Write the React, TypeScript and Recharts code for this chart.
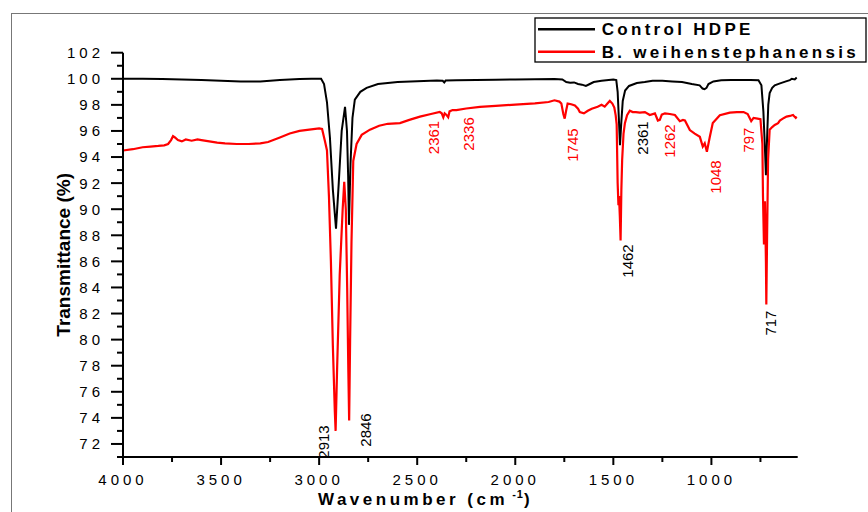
import { LineChart, Line, XAxis, YAxis, Legend, ReferenceDot, Label } from 'recharts';

const FONT = '"Liberation Sans", Arial, sans-serif';

// Control HDPE spectrum (wavenumber cm-1 / transmittance %)
const controlWave = [
  4000, 3900, 3800, 3700, 3600, 3500, 3400, 3300, 3200, 3100, 3040, 2990, 2975, 2960, 2945, 2930, 2914, 2900,
  2885, 2868, 2858, 2852, 2848, 2840, 2830, 2818, 2790, 2758, 2700, 2600, 2500, 2400, 2370, 2362, 2355, 2300,
  2200, 2100, 2000, 1900, 1800, 1760, 1740, 1720, 1700, 1680, 1660, 1640, 1620, 1600, 1560, 1500, 1485, 1478,
  1472, 1466, 1460, 1452, 1440, 1420, 1380, 1340, 1300, 1250, 1200, 1150, 1100, 1060, 1045, 1035, 1025, 1015,
  990, 950, 900, 850, 800, 760, 745, 735, 728, 722, 716, 710, 703, 690, 677, 650, 620, 600, 590, 575, 565,
];
const controlT = [
  100.0, 100.0, 99.98, 99.95, 99.9, 99.85, 99.8, 99.8, 99.9, 99.98, 100.0, 100.0, 99.6, 98.2, 95.5, 91.5, 88.5, 92.0,
  96.0, 97.85, 96.0, 92.5, 88.8, 93.5, 97.0, 98.4, 99.0, 99.3, 99.6, 99.75, 99.82, 99.86, 99.85, 99.72, 99.86, 99.88,
  99.9, 99.93, 99.95, 99.97, 99.98, 99.95, 99.75, 99.7, 99.72, 99.6, 99.55, 99.45, 99.6, 99.75, 99.85, 99.95, 99.9, 99.0,
  97.0, 94.9, 96.5, 98.3, 99.1, 99.45, 99.67, 99.75, 99.85, 99.85, 99.8, 99.75, 99.6, 99.5, 99.25, 99.2, 99.3, 99.6,
  99.8, 99.88, 99.9, 99.9, 99.9, 99.88, 99.5, 97.5, 95.0, 92.6, 95.5, 98.0, 98.9, 99.3, 99.5, 99.65, 99.8, 99.9, 100.0, 99.95, 100.1,
];

// B. weihenstephanensis treated HDPE spectrum
const bacWave = [
  4000, 3950, 3900, 3860, 3820, 3790, 3770, 3755, 3745, 3735, 3720, 3700, 3680, 3650, 3620, 3600, 3560, 3520,
  3480, 3420, 3360, 3300, 3260, 3200, 3150, 3100, 3050, 3000, 2985, 2970, 2960, 2950, 2940, 2930, 2920, 2916,
  2908, 2895, 2880, 2872, 2864, 2857, 2851, 2847, 2842, 2835, 2826, 2809, 2783, 2741, 2694, 2650, 2588, 2540,
  2486, 2430, 2385, 2375, 2367, 2360, 2352, 2342, 2335, 2320, 2300, 2250, 2180, 2100, 2000, 1900, 1830, 1800,
  1775, 1765, 1755, 1748, 1740, 1733, 1715, 1696, 1680, 1671, 1650, 1630, 1610, 1580, 1560, 1544, 1530, 1518,
  1505, 1495, 1488, 1483, 1478, 1474, 1471, 1467, 1463, 1459, 1455, 1448, 1441, 1430, 1416, 1401, 1385, 1365,
  1339, 1314, 1288, 1273, 1263, 1253, 1237, 1212, 1186, 1161, 1145, 1135, 1110, 1085, 1059, 1044, 1034, 1023,
  1008, 993, 957, 906, 870, 836, 815, 805, 797, 785, 765, 750, 740, 737, 732, 729, 727, 722, 720, 716, 711, 703,
  690, 677, 660, 651, 630, 617, 600, 584, 570, 565,
];
const bacT = [
  94.5, 94.6, 94.75, 94.8, 94.85, 94.9, 95.0, 95.3, 95.6, 95.5, 95.3, 95.2, 95.35, 95.25, 95.35, 95.3, 95.2, 95.1,
  95.05, 95.0, 95.0, 95.05, 95.15, 95.5, 95.8, 96.0, 96.1, 96.2, 96.15, 95.2, 94.5, 91.0, 86.0, 79.5, 74.5, 73.0,
  78.0, 85.0, 90.0, 92.1, 90.0, 84.0, 77.5, 73.8, 80.0, 87.5, 93.7, 95.0, 95.7, 96.1, 96.4, 96.55, 96.6, 96.85,
  97.1, 97.3, 97.45, 97.35, 97.05, 97.35, 97.25, 97.05, 97.5, 97.6, 97.6, 97.72, 97.85, 97.92, 98.02, 98.12, 98.22, 98.35,
  98.25, 98.1, 97.3, 96.95, 97.6, 98.1, 98.05, 97.95, 97.7, 97.45, 97.35, 97.55, 97.7, 97.85, 98.0, 97.86, 98.1, 98.3,
  98.1, 97.8, 97.2, 96.5, 92.0, 90.3, 91.0, 89.5, 87.6, 91.5, 93.8, 95.8, 96.6, 97.2, 97.55, 97.45, 97.45, 97.4,
  97.45, 97.22, 97.35, 96.8, 96.85, 97.25, 97.35, 97.3, 97.22, 96.75, 96.85, 96.8, 96.07, 95.8, 95.55, 94.8, 95.05, 94.4,
  95.55, 96.6, 97.2, 97.4, 97.45, 97.45, 97.3, 97.0, 96.75, 97.0, 96.95, 96.9, 95.0, 91.0, 87.3, 89.5, 90.6, 86.0, 82.7, 88.0, 93.8, 96.1,
  96.3, 96.46, 96.6, 96.8, 97.0, 97.1, 97.15, 97.22, 97.0, 97.1,
];

const xTicks = [4000, 3750, 3500, 3250, 3000, 2750, 2500, 2250, 2000, 1750, 1500, 1250, 1000, 750];
const yTicks = [
  71, 72, 73, 74, 75, 76, 77, 78, 79, 80, 81, 82, 83, 84, 85, 86, 87, 88, 89, 90, 91, 92, 93, 94, 95, 96,
  97, 98, 99, 100, 101, 102,
];

// peak annotations: label text, where it sits (wavenumber, %T), colour
const peakText = ['2913', '2846', '2361', '2336', '1745', '2361', '1262', '1048', '797', '1462', '717'];
const peakWave = [2975, 2761, 2415, 2236, 1708, 1350, 1212, 979, 806, 1426, 697];
const peakT = [72.15, 73.07, 95.5, 95.77, 94.92, 95.46, 95.23, 92.47, 95.3, 86.03, 81.27];
const peakColor = ['#000', '#000', '#f00', '#f00', '#f00', '#000', '#f00', '#f00', '#f00', '#000', '#000'];

const controlData = controlWave.map((w, i) => ({ w, t: controlT[i] }));
const bacData = bacWave.map((w, i) => ({ w, t: bacT[i] }));

const XTick = (props: any) => {
  const { x, y, payload } = props;
  const major = payload.value % 500 === 0;
  return (
    <g>
      <line x1={x} y1={y} x2={x} y2={y + (major ? 8 : 5)} stroke="#000" strokeWidth={2} />
      {major && (
        <text x={x} y={y + 28} textAnchor="middle" fontSize={15} letterSpacing={4} fontFamily={FONT} fill="#000">
          {payload.value}
        </text>
      )}
    </g>
  );
};

const YTick = (props: any) => {
  const { x, y, payload } = props;
  const major = payload.value % 2 === 0;
  return (
    <g>
      <line x1={x} y1={y} x2={x - (major ? 12 : 6)} y2={y} stroke="#000" strokeWidth={2} />
      {major && (
        <text x={x - 19} y={y + 5.4} textAnchor="end" fontSize={15} letterSpacing={4} fontFamily={FONT} fill="#000">
          {payload.value}
        </text>
      )}
    </g>
  );
};

const LegendBox = () => (
  <svg width={334} height={47} style={{ display: 'block' }}>
    <rect x={1} y={1} width={331} height={44} fill="#fff" stroke="#000" strokeWidth={1.3} />
    <line x1={4} x2={61} y1={12.3} y2={12.3} stroke="#000" strokeWidth={2.5} />
    <line x1={4} x2={61} y1={34.7} y2={34.7} stroke="#f00" strokeWidth={2.5} />
    <text x={67.7} y={18} fontSize={17} fontWeight="bold" letterSpacing={3.3} fontFamily={FONT} fill="#000">
      Control HDPE
    </text>
    <text x={67.7} y={41} fontSize={17} fontWeight="bold" letterSpacing={3.3} fontFamily={FONT} fill="#000">
      B. weihenstephanensis
    </text>
  </svg>
);

export default function App() {
  return (
    <div style={{ position: 'absolute', left: 0, top: 0, width: 868, height: 512, background: '#fff', overflow: 'hidden' }}>
      <div style={{ position: 'absolute', left: 11, top: 13, right: -5, bottom: -5, borderTop: '1px solid #777', borderLeft: '1px solid #777' }} />
      <LineChart width={868} height={512} margin={{ top: 52.7, right: 70.3, bottom: 25, left: 63 }}>
        <XAxis
          type="number"
          dataKey="w"
          domain={[560, 4000]}
          reversed
          allowDataOverflow
          ticks={xTicks}
          interval={0}
          height={30}
          tickSize={0}
          tickMargin={0}
          tickLine={false}
          tick={<XTick />}
          axisLine={{ stroke: '#000', strokeWidth: 2 }}
        >
          <Label
            content={(p: any) => {
              const vb = p.viewBox;
              return (
                <text x={vb.x + 195} y={vb.y + 48} fontSize={17} fontWeight="bold" letterSpacing={3.5} fontFamily={FONT} fill="#000">
                  Wavenumber (cm
                  <tspan dy={-7} fontSize={11} letterSpacing={1}> -1</tspan>
                  <tspan dy={7} fontSize={17}>)</tspan>
                </text>
              );
            }}
          />
        </XAxis>
        <YAxis
          type="number"
          domain={[71, 102]}
          allowDataOverflow
          ticks={yTicks}
          interval={0}
          width={60}
          tickSize={0}
          tickMargin={0}
          tickLine={false}
          tick={<YTick />}
          axisLine={{ stroke: '#000', strokeWidth: 2 }}
        >
          <Label
            content={(p: any) => {
              const vb = p.viewBox;
              const cx = vb.x + 7;
              const cy = vb.y + vb.height / 2;
              return (
                <text x={cx} y={cy} transform={`rotate(-90 ${cx} ${cy})`} textAnchor="middle" fontSize={19} fontWeight="bold" fontFamily={FONT} fill="#000">
                  Transmittance (%)
                </text>
              );
            }}
          />
        </YAxis>
        <Legend
          layout="vertical"
          align="center"
          verticalAlign="middle"
          content={<LegendBox />}
          wrapperStyle={{ left: 534, top: 17, width: 334, height: 47 }}
        />
        <Line data={controlData} dataKey="t" name="Control HDPE" type="linear" stroke="#000" strokeWidth={2} dot={false} isAnimationActive={false} />
        <Line data={bacData} dataKey="t" name="B. weihenstephanensis" type="linear" stroke="#f00" strokeWidth={2.2} dot={false} isAnimationActive={false} />
        {peakText.map((txt, i) => (
          <ReferenceDot
            key={i}
            x={peakWave[i]}
            y={peakT[i]}
            r={1}
            shape={(s: any) => (
              <text
                x={s.cx}
                y={s.cy}
                dy={5}
                transform={`rotate(-90 ${s.cx} ${s.cy})`}
                textAnchor="middle"
                fontSize={15}
                fontFamily={FONT}
                fill={peakColor[i]}
              >
                {txt}
              </text>
            )}
          />
        ))}
      </LineChart>
    </div>
  );
}
